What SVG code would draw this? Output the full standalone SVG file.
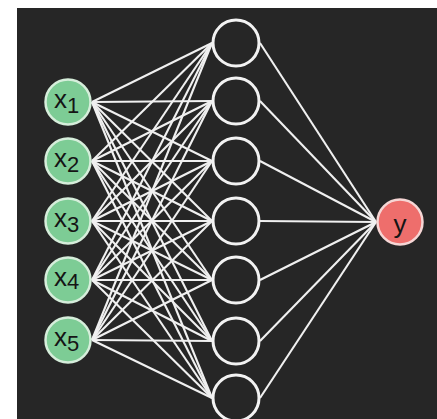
<svg xmlns="http://www.w3.org/2000/svg" width="437" height="419" viewBox="0 0 437 419">
<style>
.in circle{fill:#7dcc95;stroke:#d6eedb;stroke-width:2.5}
.hid circle{fill:none;stroke:#f2f2f2;stroke-width:3}
.out circle{fill:#ee6e6c;stroke:#f6d6d5;stroke-width:2.5}
.lbl{font-family:"Liberation Sans",Arial,sans-serif;font-size:26px;fill:#151515;font-weight:normal}
.edges line{stroke:#f0f0f0;stroke-width:2.1}
</style>
<rect x="0" y="0" width="437" height="419" fill="#ffffff"/>
<rect x="17" y="8" width="420" height="411" fill="#262626"/>
<g class="edges" id="edges">
<line x1="92" y1="102" x2="212" y2="43"/><line x1="92" y1="102" x2="212" y2="101"/><line x1="92" y1="102" x2="212" y2="161"/><line x1="92" y1="102" x2="212" y2="221"/><line x1="92" y1="102" x2="212" y2="280"/><line x1="92" y1="102" x2="212" y2="341"/><line x1="92" y1="102" x2="212" y2="398"/>
<line x1="92" y1="161" x2="212" y2="43"/><line x1="92" y1="161" x2="212" y2="101"/><line x1="92" y1="161" x2="212" y2="161"/><line x1="92" y1="161" x2="212" y2="221"/><line x1="92" y1="161" x2="212" y2="280"/><line x1="92" y1="161" x2="212" y2="341"/><line x1="92" y1="161" x2="212" y2="398"/>
<line x1="92" y1="221" x2="212" y2="43"/><line x1="92" y1="221" x2="212" y2="101"/><line x1="92" y1="221" x2="212" y2="161"/><line x1="92" y1="221" x2="212" y2="221"/><line x1="92" y1="221" x2="212" y2="280"/><line x1="92" y1="221" x2="212" y2="341"/><line x1="92" y1="221" x2="212" y2="398"/>
<line x1="92" y1="280" x2="212" y2="43"/><line x1="92" y1="280" x2="212" y2="101"/><line x1="92" y1="280" x2="212" y2="161"/><line x1="92" y1="280" x2="212" y2="221"/><line x1="92" y1="280" x2="212" y2="280"/><line x1="92" y1="280" x2="212" y2="341"/><line x1="92" y1="280" x2="212" y2="398"/>
<line x1="92" y1="340" x2="212" y2="43"/><line x1="92" y1="340" x2="212" y2="101"/><line x1="92" y1="340" x2="212" y2="161"/><line x1="92" y1="340" x2="212" y2="221"/><line x1="92" y1="340" x2="212" y2="280"/><line x1="92" y1="340" x2="212" y2="341"/><line x1="92" y1="340" x2="212" y2="398"/>
<line x1="260" y1="43" x2="376" y2="222"/><line x1="260" y1="101" x2="376" y2="222"/><line x1="260" y1="161" x2="376" y2="222"/><line x1="260" y1="221" x2="376" y2="222"/><line x1="260" y1="280" x2="376" y2="222"/><line x1="260" y1="341" x2="376" y2="222"/><line x1="260" y1="398" x2="376" y2="222"/>
</g>
<g id="x1" class="in"><circle cx="68" cy="102" r="22.5"/><text class="lbl" x="54" y="108">x<tspan dy="5" font-size="22">1</tspan></text></g>
<g id="x2" class="in"><circle cx="68" cy="161" r="22.5"/><text class="lbl" x="54" y="167">x<tspan dy="5" font-size="22">2</tspan></text></g>
<g id="x3" class="in"><circle cx="68" cy="221" r="22.5"/><text class="lbl" x="54" y="227">x<tspan dy="5" font-size="22">3</tspan></text></g>
<g id="x4" class="in"><circle cx="68" cy="280" r="22.5"/><text class="lbl" x="54" y="286">x<tspan dy="3" font-size="22">4</tspan></text></g>
<g id="x5" class="in"><circle cx="68" cy="340" r="22.5"/><text class="lbl" x="54" y="346">x<tspan dy="5" font-size="22">5</tspan></text></g>
<g id="h1" class="hid"><circle cx="236" cy="43" r="23"/></g>
<g id="h2" class="hid"><circle cx="236" cy="101" r="23"/></g>
<g id="h3" class="hid"><circle cx="236" cy="161" r="23"/></g>
<g id="h4" class="hid"><circle cx="236" cy="221" r="23"/></g>
<g id="h5" class="hid"><circle cx="236" cy="280" r="23"/></g>
<g id="h6" class="hid"><circle cx="236" cy="341" r="23"/></g>
<g id="h7" class="hid"><circle cx="236" cy="398" r="23"/></g>
<g id="y" class="out"><circle cx="400" cy="222" r="22.5"/><text class="lbl" x="400" y="233" text-anchor="middle" font-size="32">y</text></g>
</svg>
